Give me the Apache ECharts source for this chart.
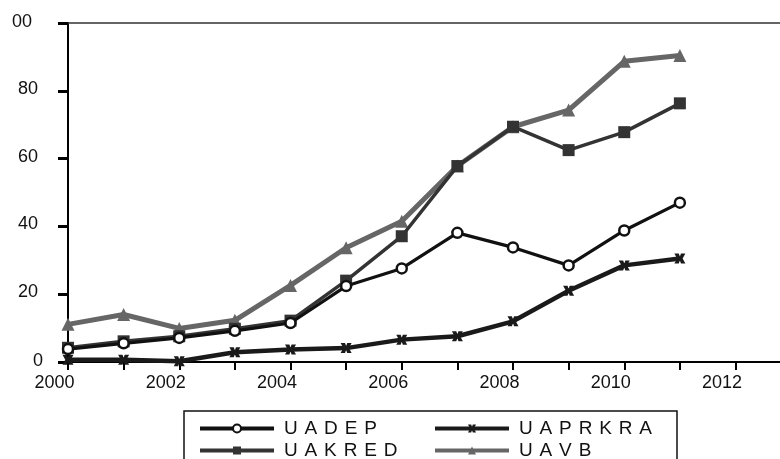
<!DOCTYPE html>
<html>
<head>
<meta charset="utf-8">
<script src="https://cdn.jsdelivr.net/npm/echarts@6/dist/echarts.min.js"></script>
<style>html,body{margin:0;padding:0;background:#fff}#c{width:780px;height:459px}</style>
</head>
<body>
<div id="c"></div>
<script>
const years = [2000,2001,2002,2003,2004,2005,2006,2007,2008,2009,2010,2011];
const UADEP   = [3.8, 5.5, 7.1, 9.2, 11.5, 22.4, 27.6, 38.1, 33.8, 28.5, 38.8, 47.0];
const UAPRKRA = [0.7, 0.7, 0.2, 2.9, 3.7, 4.1, 6.6, 7.6, 12.0, 21.0, 28.5, 30.5];
const UAKRED  = [4.2, 6.1, 7.6, 9.8, 12.2, 24.0, 37.1, 57.8, 69.4, 62.5, 67.8, 76.3];
const UAVB    = [11.1, 14.0, 9.9, 12.3, 22.6, 33.7, 41.5, 57.8, 69.4, 74.3, 88.7, 90.4];
const xTickLabels = ['2000','2002','2004','2006','2008','2010','2012'];
const seriesNames = ['UADEP','UAPRKRA','UAKRED','UAVB'];

const pair = arr => years.map((y,i)=>[y,arr[i]]);
const spaced = n => n.split('').join(' \u200A');
const FONT = 'Liberation Sans, Arial, sans-serif';
const xMark = 'path://M0,0L4,0L5,3L6,0L10,0L7.5,5L10,10L6,10L5,7L4,10L0,10L2.5,5Z';

const legendAt = (name, left, top) => ({
  data: [name], left: left, top: top - 2, itemWidth: 74, itemHeight: 10, padding: 0,
  formatter: spaced,
  lineStyle: {width: 4},
  textStyle: {fontFamily: FONT, fontSize: 19, color: '#111', padding: [0,0,0,5]},
  selectedMode: false
});

const chart = echarts.init(document.getElementById('c'), null, {renderer: 'canvas'});
chart.setOption({
  animation: false,
  backgroundColor: '#fff',
  grid: {left: 68, top: 23, right: 0, bottom: 97, containLabel: false},
  graphic: [{type: 'rect', shape: {x: 184, y: 411, width: 493, height: 70},
             style: {fill: 'none', stroke: '#111', lineWidth: 1.5}, silent: true}],
  legend: [
    legendAt('UADEP', 198, 421),
    legendAt('UAPRKRA', 433, 421),
    legendAt('UAKRED', 198, 443),
    legendAt('UAVB', 433, 443)
  ],
  xAxis: [{
    type: 'value', min: 2000, max: 2012.8, interval: 1,
    axisLine: {onZero: false, lineStyle: {color: '#000', width: 2}},
    axisTick: {show: true, length: 8, lineStyle: {color: '#000', width: 2}},
    splitLine: {show: false},
    axisLabel: {
      margin: 12, fontFamily: FONT, fontSize: 18, color: '#111', padding: [0,27,0,0],
      showMaxLabel: false,
      formatter: v => xTickLabels.indexOf(String(v)) >= 0 ? String(v) : ''
    }
  }, {
    type: 'value', position: 'top', min: 2000, max: 2012.8, interval: 1,
    axisLine: {onZero: false, lineStyle: {color: '#333', width: 1.5}},
    axisTick: {show: false}, axisLabel: {show: false}, splitLine: {show: false}
  }],
  yAxis: {
    type: 'value', min: 0, max: 100, interval: 20,
    axisLine: {show: true, lineStyle: {color: '#000', width: 2}},
    axisTick: {show: true, length: 10, lineStyle: {color: '#000', width: 3}},
    splitLine: {show: false},
    axisLabel: {
      margin: 25, fontFamily: FONT, fontSize: 18, color: '#111',
      formatter: v => v === 100 ? '{t|00}' : (v === 0 ? '{z|0}' : '{n|' + v + '}'),
      rich: {
        t: {fontFamily: FONT, fontSize: 18, color: '#111', padding: [0,11,2,0]},
        z: {fontFamily: FONT, fontSize: 18, color: '#111', padding: [0,0,2,0]},
        n: {fontFamily: FONT, fontSize: 18, color: '#111', padding: [0,5,4,0]}
      }
    }
  },
  series: [
    {name: 'UAVB', type: 'line', data: pair(UAVB), symbol: 'triangle', symbolSize: 13,
     lineStyle: {color: '#666', width: 5, type: 'solid'}, itemStyle: {color: '#666'}, z: 2},
    {name: 'UAKRED', type: 'line', data: pair(UAKRED), symbol: 'rect', symbolSize: 12,
     lineStyle: {color: '#333', width: 3.5, type: 'solid'}, itemStyle: {color: '#333'}, z: 3},
    {name: 'UADEP', type: 'line', data: pair(UADEP), symbol: 'circle', symbolSize: 10,
     lineStyle: {color: '#111', width: 3.2, type: 'solid'},
     itemStyle: {color: '#fff', borderColor: '#111', borderWidth: 2.5, borderType: 'solid'}, z: 4},
    {name: 'UAPRKRA', type: 'line', data: pair(UAPRKRA), symbol: xMark, symbolSize: [11, 10],
     lineStyle: {color: '#1a1a1a', width: 4.5, type: 'solid'}, itemStyle: {color: '#1a1a1a'}, z: 5}
  ]
});
</script>
</body>
</html>
